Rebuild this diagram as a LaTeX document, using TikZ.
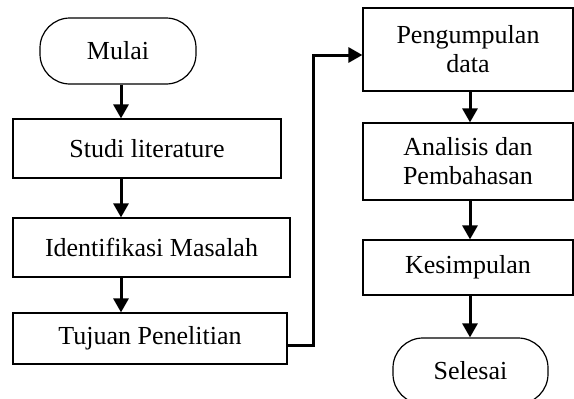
\documentclass[tikz,border=0pt]{standalone}
\usepackage{fontspec}
\setmainfont{Liberation Serif}
\usetikzlibrary{arrows.meta}
\begin{document}
\begin{tikzpicture}[x=1pt,y=-1pt,
  box/.style={draw, line width=1.2pt, inner sep=0pt, align=center,
    font=\fontsize{26}{29}\selectfont},
  term/.style={box, rounded corners=30pt},
  arr/.style={line width=3pt, -{Triangle[width=15pt,length=14pt]}}]
\clip (0,0) rectangle (574,399);
\node[term, minimum width=156pt, minimum height=66pt] (mulai) at (118,51) {Mulai};
\node[box, minimum width=268pt, minimum height=59pt] (studi) at (147,148.5) {Studi literature};
\node[box, minimum width=277pt, minimum height=59pt] (ident) at (151.5,247.5) {Identifikasi Masalah};
\node[box, minimum width=274pt, minimum height=51pt] (tujuan) at (150,338.5) {Tujuan Penelitian};
\node[box, minimum width=210pt, minimum height=83pt] (peng) at (468,49.5) {Pengumpulan\\data};
\node[box, minimum width=210pt, minimum height=77pt] (anal) at (468,161.5) {Analisis dan\\Pembahasan};
\node[box, minimum width=210pt, minimum height=55pt] (kes) at (468,267.5) {Kesimpulan};
\node[term, minimum width=155pt, minimum height=66pt] (sel) at (470.5,371) {Selesai};
\coordinate (ax) at (121,0);
\coordinate (bx) at (470,0);
\coordinate (c1) at (313,345);
\coordinate (c2) at (313,55);
\draw[arr] (mulai.south -| ax) -- (studi.north -| ax);
\draw[arr] (studi.south -| ax) -- (ident.north -| ax);
\draw[arr] (ident.south -| ax) -- (tujuan.north -| ax);
\draw[arr] (tujuan.east |- c1) -- (c1) -- (c2) -- (peng.west |- c2);
\draw[arr] (peng.south -| bx) -- (anal.north -| bx);
\draw[arr] (anal.south -| bx) -- (kes.north -| bx);
\draw[arr] (kes.south -| bx) -- (sel.north -| bx);
\end{tikzpicture}
\end{document}
